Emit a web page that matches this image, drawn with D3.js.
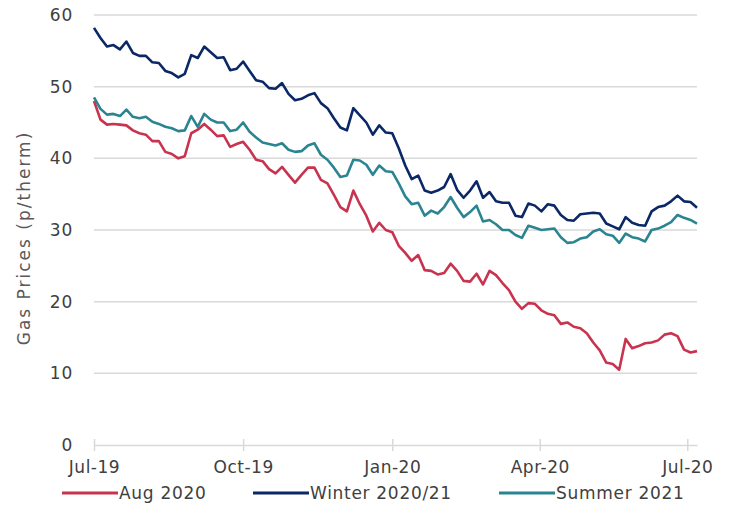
<!DOCTYPE html>
<html>
<head>
<meta charset="utf-8">
<script src="https://cdn.jsdelivr.net/npm/d3@7"></script>
<style>
  body { margin: 0; background: #fff; }
  svg text { font-family: "DejaVu Sans", sans-serif; }
</style>
</head>
<body>
<svg id="chart" width="730" height="512"></svg>
<script>
// values, one point every 4 days from 1 Jul 2019
const aug2020 = [48.0,45.4,44.7,44.8,44.7,44.6,43.9,43.5,43.3,42.4,42.4,40.9,40.6,40.0,40.3,43.5,44.0,44.8,44.0,43.1,
  43.2,41.6,42.0,42.3,41.2,39.8,39.6,38.5,37.9,38.8,37.7,36.6,37.7,38.7,38.7,37.0,36.5,34.9,33.2,32.6,
  35.5,33.6,32.0,29.8,31.0,30.0,29.7,27.8,26.8,25.7,26.5,24.4,24.3,23.8,24.0,25.3,24.3,22.9,22.8,23.9,
  22.4,24.3,23.7,22.6,21.6,20.0,19.0,19.8,19.7,18.8,18.3,18.1,16.9,17.1,16.5,16.3,15.6,14.3,13.2,11.5,
  11.3,10.5,14.8,13.5,13.8,14.2,14.3,14.6,15.4,15.6,15.2,13.3,12.9,13.1];
const winter2021 = [58.2,56.8,55.6,55.8,55.2,56.3,54.7,54.3,54.3,53.4,53.3,52.2,51.9,51.3,51.8,54.4,54.0,55.6,54.8,54.0,
  54.1,52.3,52.5,53.5,52.2,50.9,50.7,49.8,49.7,50.5,49.0,48.1,48.3,48.8,49.1,47.7,47.0,45.6,44.3,43.9,
  47.0,46.0,45.0,43.3,44.6,43.6,43.5,41.4,39.0,37.1,37.6,35.5,35.2,35.5,36.0,37.8,35.6,34.5,35.5,36.8,
  34.5,35.3,34.0,33.8,33.8,32.0,31.8,33.7,33.4,32.6,33.6,33.4,32.1,31.4,31.3,32.2,32.3,32.4,32.3,30.9,
  30.5,30.1,31.8,31.0,30.7,30.6,32.6,33.2,33.4,34.0,34.8,34.0,33.9,33.1];
const summer2021 = [48.5,46.9,46.1,46.2,45.9,46.8,45.8,45.6,45.8,45.1,44.8,44.4,44.2,43.8,43.9,45.9,44.4,46.2,45.4,45.0,
  45.0,43.8,44.0,45.0,43.7,42.9,42.2,42.0,41.8,42.1,41.2,40.9,41.0,41.8,42.1,40.5,39.8,38.7,37.4,37.6,
  39.8,39.7,39.1,37.7,39.0,38.2,38.1,36.5,34.7,33.6,33.8,32.0,32.7,32.3,33.2,34.6,33.1,31.8,32.5,33.4,
  31.2,31.4,30.8,30.0,30.0,29.3,28.9,30.6,30.3,30.0,30.1,30.2,29.0,28.2,28.3,28.8,29.0,29.8,30.1,29.4,
  29.2,28.2,29.5,29.0,28.8,28.4,30.0,30.2,30.6,31.1,32.1,31.7,31.4,30.9];

const seriesNames = ['Aug 2020', 'Winter 2020/21', 'Summer 2021'];
const seriesColors = ['#c8344f', '#0b2766', '#2b8491'];
const yTicks = [0, 10, 20, 30, 40, 50, 60];
const xTickLabels = ['Jul-19', 'Oct-19', 'Jan-20', 'Apr-20', 'Jul-20'];
const xTickDates = [Date.UTC(2019,6,1), Date.UTC(2019,9,1), Date.UTC(2020,0,1), Date.UTC(2020,3,1), Date.UTC(2020,6,1)];

const startDate = new Date(Date.UTC(2019, 6, 1));
const stepDays = 4;

const svg = d3.select('#chart');
const plotLeft = 94, plotRight = 697, plotTop = 15, plotBottom = 445;

const x = d3.scaleUtc()
  .domain([startDate, new Date(Date.UTC(2020, 6, 7))])
  .range([plotLeft, plotRight]);
const y = d3.scaleLinear().domain([0, 60]).range([plotBottom, plotTop]);

const gridColor = '#d9d9d9';
const labelColor = '#404040';

// horizontal gridlines
svg.append('g').selectAll('line')
  .data(yTicks.filter(d => d > 0))
  .join('line')
  .attr('x1', plotLeft).attr('x2', plotRight)
  .attr('y1', d => y(d)).attr('y2', d => y(d))
  .attr('stroke', gridColor).attr('stroke-width', 1.5);

// y labels
svg.append('g').selectAll('text')
  .data(yTicks)
  .join('text')
  .attr('x', 73).attr('y', d => y(d))
  .attr('dy', '0.36em')
  .attr('text-anchor', 'end')
  .attr('font-size', 17)
  .attr('letter-spacing', '0.8px')
  .attr('fill', labelColor)
  .text(d => d);

// x axis
const xAxis = d3.axisBottom(x)
  .tickValues(xTickDates.map(d => new Date(d)))
  .tickFormat((d, i) => xTickLabels[i])
  .tickSizeInner(6)
  .tickSizeOuter(0)
  .tickPadding(10);

const gx = svg.append('g')
  .attr('transform', `translate(0,${plotBottom})`)
  .call(xAxis);
gx.select('.domain').attr('stroke', gridColor).attr('stroke-width', 1.5);
gx.selectAll('.tick line').attr('stroke', gridColor).attr('stroke-width', 1.5).attr('y1', -6);
gx.selectAll('.tick text')
  .attr('font-size', 17)
  .attr('letter-spacing', '0.5px')
  .attr('fill', labelColor)
  .attr('font-family', '"DejaVu Sans", sans-serif');

// y title
svg.append('text')
  .attr('transform', 'translate(30,238) rotate(-90)')
  .attr('text-anchor', 'middle')
  .attr('font-size', 17)
  .attr('letter-spacing', '2px')
  .attr('fill', '#595959')
  .text('Gas Prices (p/therm)');

// lines
const allSeries = [aug2020, winter2021, summer2021];
const line = d3.line()
  .x((d, i) => x(d3.utcDay.offset(startDate, i * stepDays)))
  .y(d => y(d));

svg.append('g').selectAll('path')
  .data(allSeries)
  .join('path')
  .attr('d', d => line(d))
  .attr('fill', 'none')
  .attr('stroke', (d, i) => seriesColors[i])
  .attr('stroke-width', 2.6)
  .attr('stroke-linejoin', 'round');

// legend
const legendX = [62, 253, 499];
const legend = svg.append('g').selectAll('g')
  .data(seriesNames)
  .join('g')
  .attr('transform', (d, i) => `translate(${legendX[i]},493)`);
legend.append('line')
  .attr('x1', 0).attr('x2', 56)
  .attr('stroke', (d, i) => seriesColors[i])
  .attr('stroke-width', 3);
legend.append('text')
  .attr('x', 57).attr('dy', '0.36em')
  .attr('font-size', 17)
  .attr('letter-spacing', '0.7px')
  .attr('fill', labelColor)
  .text(d => d);
</script>
</body>
</html>
